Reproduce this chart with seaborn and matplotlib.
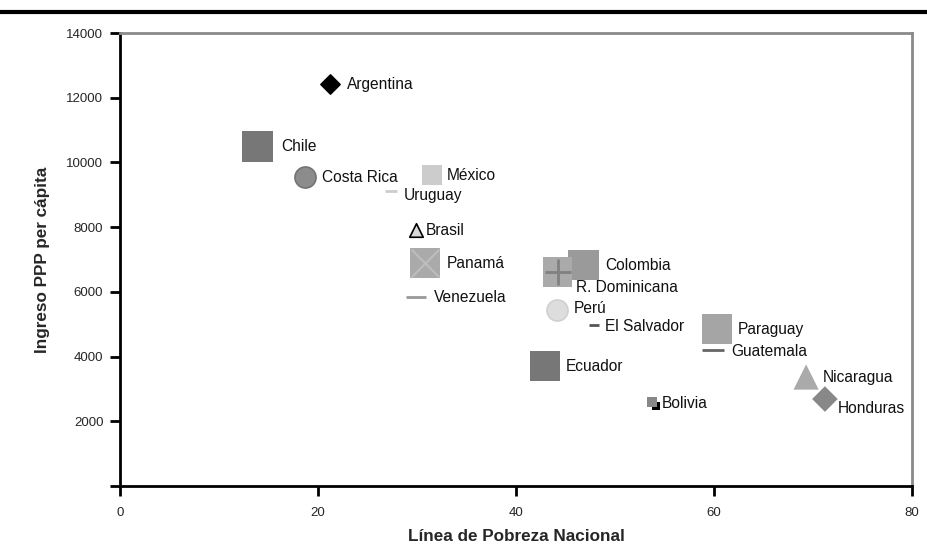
import matplotlib
matplotlib.use("Agg")
import matplotlib.pyplot as plt
import seaborn as sns

# Data
paises = ["Argentina", "Chile", "Costa Rica", "México", "Uruguay", "Brasil",
          "Panamá", "Venezuela", "Colombia", "R. Dominicana", "Perú",
          "El Salvador", "Paraguay", "Guatemala", "Ecuador", "Bolivia",
          "Nicaragua", "Honduras"]
pobreza = [21.2, 13.9, 18.7, 31.5, 27.4, 29.9, 30.8, 29.9, 46.8, 44.2, 44.1,
           47.9, 60.3, 59.9, 42.9, 53.7, 69.3, 71.2]
ingreso = [12420, 10500, 9550, 9610, 9115, 7910, 6890, 5840, 6830, 6610, 5440,
           4975, 4850, 4200, 3710, 2600, 3370, 2690]

# marker, face colour, size (points^2), edge colour
estilos = {
    "Argentina": ("D", "#000000", 95, "#000000"),
    "Chile": ("s", "#777777", 480, "none"),
    "Costa Rica": ("o", "#8c8c8c", 230, "#737373"),
    "México": ("s", "#cccccc", 210, "none"),
    "Uruguay": ("_", "#cccccc", 70, "#cccccc"),
    "Brasil": ("^", "#d9d9d9", 95, "#000000"),
    "Panamá": ("s", "#aaaaaa", 460, "none"),
    "Venezuela": ("_", "#999999", 220, "#999999"),
    "Colombia": ("s", "#9a9a9a", 480, "none"),
    "R. Dominicana": ("s", "#aaaaaa", 460, "none"),
    "Perú": ("o", "#dddddd", 230, "#d0d0d0"),
    "El Salvador": ("_", "#555555", 60, "#555555"),
    "Paraguay": ("s", "#a5a5a5", 470, "none"),
    "Guatemala": ("_", "#666666", 240, "#666666"),
    "Ecuador": ("s", "#777777", 480, "none"),
    "Bolivia": ("s", "#888888", 50, "none"),
    "Nicaragua": ("^", "#aaaaaa", 330, "none"),
    "Honduras": ("D", "#888888", 170, "none"),
}

# label offsets in points
offsets = {
    "Argentina": (12, 0), "Chile": (17, 0), "Costa Rica": (12, 0),
    "México": (11, 0), "Uruguay": (9, -3), "Brasil": (7, 0),
    "Panamá": (16, 0), "Venezuela": (13, 0), "Colombia": (16, 0),
    "R. Dominicana": (13, -11), "Perú": (12, 1), "El Salvador": (8, -1),
    "Paraguay": (15, 0), "Guatemala": (13, -1), "Ecuador": (15, 0),
    "Bolivia": (7, -1), "Nicaragua": (12, 0), "Honduras": (9, -7),
}

sns.set_style("white")
plt.rcParams["font.family"] = ["Liberation Sans", "DejaVu Sans"]

fig = plt.figure(figsize=(9.28, 5.6), dpi=100)
ax = fig.add_axes([0.1293, 0.132, 0.8535, 0.809])

for p, x, y in zip(paises, pobreza, ingreso):
    m, c, s, ec = estilos[p]
    if m == "_":
        lw = 2.0
    elif ec != "none":
        lw = 1.2
    else:
        lw = 0
    sns.scatterplot(x=[x], y=[y], marker=m, color=c, s=s, edgecolor=ec,
                    linewidth=lw, ax=ax, zorder=3, legend=False)
    if p == "Panamá":
        sns.scatterplot(x=[x], y=[y], marker="x", color="#bdbdbd", s=400,
                        linewidth=1.5, ax=ax, zorder=4, legend=False)
    if p == "R. Dominicana":
        sns.scatterplot(x=[x], y=[y], marker="+", color="#808080", s=330,
                        linewidth=2, ax=ax, zorder=4, legend=False)
    if p == "Bolivia":
        sns.scatterplot(x=[x + 0.4], y=[y - 120], marker="s", color="#000000",
                        s=35, linewidth=0, ax=ax, zorder=2, legend=False)
    ax.annotate(p, (x, y), xytext=offsets[p], textcoords="offset points",
                ha="left", va="center", fontsize=11.2, color="#111111")

ax.set_xlim(0, 80)
ax.set_ylim(0, 14000)
ax.set_xticks([0, 20, 40, 60, 80])
ax.set_yticks([0, 2000, 4000, 6000, 8000, 10000, 12000, 14000])
ax.set_yticklabels(["", "2000", "4000", "6000", "8000", "10000", "12000", "14000"])

for lab in ax.get_xticklabels() + ax.get_yticklabels():
    lab.set_fontsize(9.5)

ax.tick_params(axis="both", direction="out", length=7, width=2, color="black",
               left=True, bottom=True, pad=5)
ax.tick_params(axis="x", pad=8)

for side in ["left", "bottom"]:
    ax.spines[side].set_color("black")
    ax.spines[side].set_linewidth(2)
for side in ["top", "right"]:
    ax.spines[side].set_color("#8a8a8a")
    ax.spines[side].set_linewidth(2)

ax.set_xlabel("Línea de Pobreza Nacional", fontsize=12.3, fontweight="bold",
              labelpad=7)
ax.set_ylabel("Ingreso PPP per cápita", fontsize=12.3, fontweight="bold",
              labelpad=12)

# thick rule across the top
fig.add_artist(plt.Line2D([0, 1], [0.979, 0.979], color="black", linewidth=3,
                          transform=fig.transFigure))

fig.savefig("out.png", dpi=100)
